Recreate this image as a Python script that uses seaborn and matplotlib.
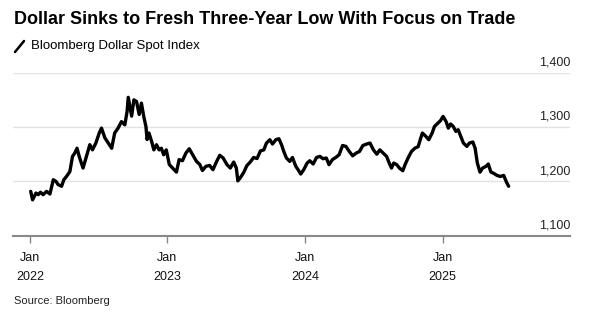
import matplotlib
matplotlib.use("Agg")
import matplotlib.pyplot as plt
import matplotlib.transforms as mtransforms
import seaborn as sns
import pandas as pd

dates = [
    "2022-01-03", "2022-01-08", "2022-01-17", "2022-01-23", "2022-01-29", "2022-02-05",
    "2022-02-14", "2022-02-23", "2022-03-04", "2022-03-11", "2022-03-17", "2022-03-26",
    "2022-04-01", "2022-04-08", "2022-04-17", "2022-04-24", "2022-04-30", "2022-05-06",
    "2022-05-13", "2022-05-22", "2022-05-31", "2022-06-09", "2022-06-16", "2022-06-25",
    "2022-07-04", "2022-07-10", "2022-07-19", "2022-07-28", "2022-08-06", "2022-08-14",
    "2022-08-23", "2022-09-01", "2022-09-10", "2022-09-16", "2022-09-19", "2022-09-28",
    "2022-10-04", "2022-10-11", "2022-10-18", "2022-10-24", "2022-10-30", "2022-11-05",
    "2022-11-08", "2022-11-13", "2022-11-20", "2022-11-26", "2022-12-03", "2022-12-10",
    "2022-12-16", "2022-12-22", "2022-12-29", "2023-01-06", "2023-01-15", "2023-01-25",
    "2023-02-01", "2023-02-10", "2023-02-19", "2023-02-28", "2023-03-09", "2023-03-19",
    "2023-03-28", "2023-04-04", "2023-04-13", "2023-04-23", "2023-05-02", "2023-05-11",
    "2023-05-20", "2023-05-29", "2023-06-08", "2023-06-17", "2023-06-26", "2023-07-03",
    "2023-07-07", "2023-07-14", "2023-07-23", "2023-07-31", "2023-08-09", "2023-08-18",
    "2023-08-27", "2023-09-05", "2023-09-14", "2023-09-21", "2023-09-30", "2023-10-07",
    "2023-10-16", "2023-10-24", "2023-10-31", "2023-11-06", "2023-11-13", "2023-11-22",
    "2023-11-29", "2023-12-08", "2023-12-14", "2023-12-21", "2023-12-29", "2024-01-07",
    "2024-01-14", "2024-01-23", "2024-02-01", "2024-02-10", "2024-02-18", "2024-02-27",
    "2024-03-05", "2024-03-14", "2024-03-23", "2024-04-01", "2024-04-10", "2024-04-19",
    "2024-04-28", "2024-05-07", "2024-05-16", "2024-05-25", "2024-06-03", "2024-06-13",
    "2024-06-22", "2024-07-01", "2024-07-10", "2024-07-18", "2024-07-27", "2024-08-05",
    "2024-08-12", "2024-08-18", "2024-08-24", "2024-09-01", "2024-09-08", "2024-09-17",
    "2024-09-23", "2024-10-01", "2024-10-10", "2024-10-19", "2024-10-28", "2024-11-01",
    "2024-11-08", "2024-11-17", "2024-11-25", "2024-12-04", "2024-12-10", "2024-12-19",
    "2024-12-26", "2025-01-02", "2025-01-10", "2025-01-16", "2025-01-22", "2025-01-29",
    "2025-02-05", "2025-02-11", "2025-02-18", "2025-02-25", "2025-03-06", "2025-03-13",
    "2025-03-22", "2025-03-28", "2025-04-03", "2025-04-10", "2025-04-17", "2025-04-26",
    "2025-05-02", "2025-05-09", "2025-05-16", "2025-05-25", "2025-06-03", "2025-06-12",
    "2025-06-19", "2025-06-25",
]
index_values = [
    1181.6, 1166.0, 1178.5, 1175.5, 1180.0, 1175.5,
    1181.6, 1176.7, 1203.0, 1200.0, 1194.0, 1191.0,
    1203.0, 1209.0, 1218.0, 1246.0, 1252.0, 1261.0,
    1243.0, 1224.5, 1246.0, 1267.5, 1258.0, 1270.5,
    1289.0, 1298.0, 1280.0, 1270.5, 1261.0, 1289.0,
    1298.0, 1310.0, 1304.0, 1329.0, 1354.7, 1320.0,
    1350.0, 1347.0, 1323.0, 1344.0, 1320.0, 1301.0,
    1277.0, 1289.0, 1273.6, 1258.0, 1267.5, 1258.0,
    1261.0, 1249.0, 1258.0, 1231.0, 1224.5, 1217.0,
    1240.0, 1238.0, 1252.0, 1260.0, 1249.0, 1237.0,
    1231.0, 1220.0, 1227.6, 1229.4, 1221.5, 1235.6,
    1248.0, 1243.0, 1231.0, 1224.5, 1235.6, 1224.5,
    1201.0, 1207.0, 1217.0, 1229.0, 1235.6, 1244.0,
    1242.0, 1256.0, 1258.0, 1270.5, 1276.7, 1268.7,
    1276.7, 1278.5, 1267.5, 1255.0, 1243.0, 1236.8,
    1244.0, 1227.6, 1221.5, 1213.5, 1221.5, 1233.7,
    1238.0, 1232.0, 1244.0, 1246.0, 1241.7, 1243.0,
    1230.7, 1240.0, 1244.0, 1249.0, 1266.0, 1264.4,
    1255.0, 1247.0, 1252.0, 1255.0, 1266.0, 1268.7,
    1270.5, 1258.0, 1250.0, 1258.0, 1252.0, 1246.0,
    1233.7, 1224.5, 1233.7, 1230.7, 1224.5, 1219.6,
    1230.7, 1243.0, 1255.0, 1261.0, 1264.0, 1273.6,
    1289.0, 1283.0, 1276.7, 1289.0, 1301.0, 1307.0,
    1311.7, 1319.6, 1310.0, 1298.0, 1305.6, 1301.0,
    1292.0, 1295.0, 1283.0, 1270.5, 1264.4, 1270.5,
    1272.4, 1261.0, 1233.7, 1217.0, 1224.5, 1227.6,
    1232.0, 1217.0, 1215.0, 1211.0, 1209.0, 1211.0,
    1199.0, 1191.0,
]
y_ticks = [1100, 1200, 1300, 1400]
y_tick_labels = ["1,100", "1,200", "1,300", "1,400"]
x_ticks = ["2022-01-01", "2023-01-01", "2024-01-01", "2025-01-01"]
x_tick_labels = ["Jan\n2022", "Jan\n2023", "Jan\n2024", "Jan\n2025"]

title = "Dollar Sinks to Fresh Three-Year Low With Focus on Trade"
series_name = "Bloomberg Dollar Spot Index"
source = "Source: Bloomberg"

df = pd.DataFrame({"date": pd.to_datetime(dates), "value": index_values})

sns.set_theme(style="white")
plt.rcParams["font.family"] = ["Liberation Sans", "DejaVu Sans"]

fig = plt.figure(figsize=(5.97, 3.23), dpi=100)
ax = fig.add_axes([13 / 597, 87.3 / 323, (570 - 13) / 597, (235.7 - 72.7) / 323])

sns.lineplot(data=df, x="date", y="value", ax=ax, color="black", linewidth=2.4)

ax.set_xlim(pd.Timestamp("2021-11-17"), pd.Timestamp("2025-12-05"))
ax.set_ylim(1100, 1400)
ax.set_xlabel("")
ax.set_ylabel("")

ax.set_yticks(y_ticks)
ax.set_yticklabels([])
ax.tick_params(axis="y", length=0)
ax.grid(axis="y", color="#e2e2e2", linewidth=1.0)
ax.grid(axis="x", visible=False)

trans = mtransforms.blended_transform_factory(ax.transAxes, ax.transData)
for v, lab in zip(y_ticks, y_tick_labels):
    ax.text(1.0, v + 8, lab, transform=trans, ha="right", va="bottom",
            fontsize=9, color="#222222")

ax.set_xticks(pd.to_datetime(x_ticks))
ax.set_xticklabels(x_tick_labels, fontsize=9, color="#111111", linespacing=1.75)
ax.tick_params(axis="x", length=5, width=1, color="#888888", pad=7, bottom=True)

for s in ["top", "left", "right"]:
    ax.spines[s].set_visible(False)
ax.spines["bottom"].set_color("#888888")
ax.spines["bottom"].set_linewidth(1.5)

fig.text(14 / 597, 1 - 20 / 323, title, fontsize=13, fontweight="bold",
         color="black", va="center", ha="left")
fig.lines.append(plt.Line2D([15 / 597, 24 / 597], [1 - 52 / 323, 1 - 41 / 323],
                            transform=fig.transFigure, color="black", linewidth=1.8))
fig.text(31 / 597, 1 - 46 / 323, series_name, fontsize=9.5, color="black",
         va="center", ha="left")
fig.text(14 / 597, 1 - 301 / 323, source, fontsize=8, color="#222222",
         va="center", ha="left")

fig.savefig("out.png", dpi=100)
